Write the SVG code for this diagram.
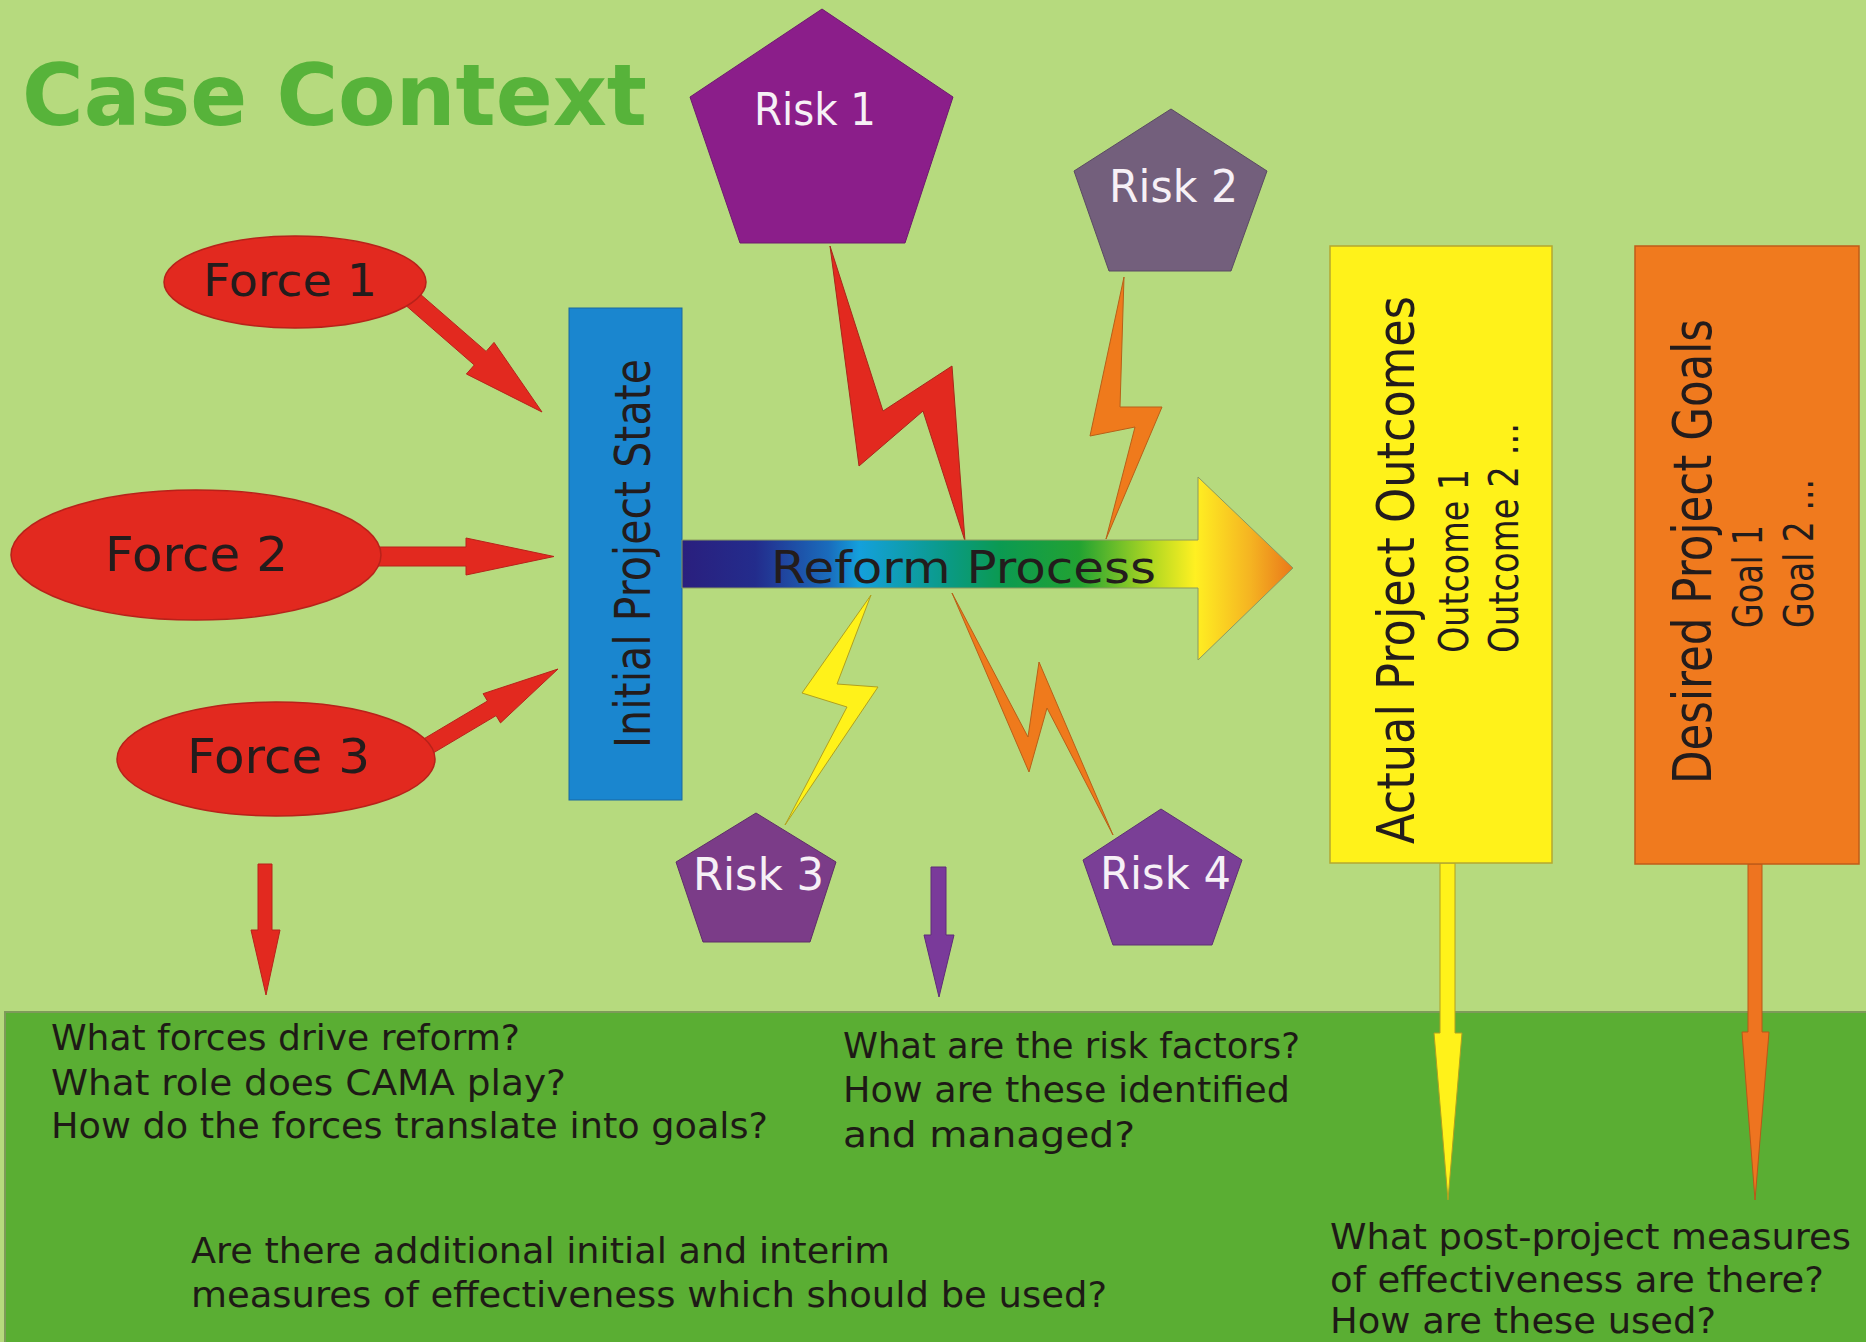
<svg xmlns="http://www.w3.org/2000/svg" width="1866" height="1342" viewBox="0 0 1866 1342">
  <style>
    .lbl { font-family: "DejaVu Sans", "Liberation Sans", sans-serif; fill: #231c1c; }
    .risk-lbl { font-family: "DejaVu Sans", "Liberation Sans", sans-serif; fill: #f6f0f6; font-size: 44px; }
    .q { font-family: "DejaVu Sans", "Liberation Sans", sans-serif; fill: #1e1a16; font-size: 35px; }
    .force { fill: #e2291f; stroke: #b8221a; stroke-width: 1.5; }
    .red-arrow { fill: #e2291f; stroke: #b8221a; stroke-width: 1; }
    .edge { stroke-width: 1; stroke-linejoin: miter; }
  </style>
  <defs>
    <linearGradient id="processFill" x1="682" y1="0" x2="1293" y2="0" gradientUnits="userSpaceOnUse">
      <stop offset="0" stop-color="#2a1f7e"/>
      <stop offset="0.12" stop-color="#232c8c"/>
      <stop offset="0.24" stop-color="#1a6cbc"/>
      <stop offset="0.29" stop-color="#14a0dc"/>
      <stop offset="0.44" stop-color="#0a9a82"/>
      <stop offset="0.52" stop-color="#0b9a52"/>
      <stop offset="0.65" stop-color="#22a232"/>
      <stop offset="0.77" stop-color="#b2d822"/>
      <stop offset="0.84" stop-color="#fff022"/>
      <stop offset="0.93" stop-color="#f5b422"/>
      <stop offset="1" stop-color="#ea781a"/>
    </linearGradient>
  </defs>

  <!-- background and lower question band -->
  <rect x="0" y="0" width="1866" height="1342" fill="#b6da7e"/>
  <rect x="5" y="1012" width="1866" height="335" fill="#5aae33" stroke="#7e9a5a" stroke-width="2"/>

  <!-- title -->
  <text x="22" y="125" font-family="'DejaVu Sans', 'Liberation Sans', sans-serif" font-weight="bold" font-size="86" fill="#57b33a" textLength="625" lengthAdjust="spacingAndGlyphs">Case Context</text>

  <!-- connectors: force arrows, risk bolts, down arrows -->
  <g id="connectors">
    <polygon class="red-arrow" points="405.1,304.8 474.3,365 466.4,374 542,412 494,342.4 486.1,351.4 416.9,291.2"/>
    <polygon class="red-arrow" points="370,547 466,547 466,538 554,556.5 466,575 466,566 370,566"/>
    <polygon class="red-arrow" points="429.3,755.3 496.1,715.6 500.5,722.9 558,669 483.1,693.7 487.5,701 420.7,740.7"/>

    <!-- lightning bolts from each risk to the process -->
    <polygon class="edge" fill="#e2291f" stroke="#a8281a" points="830,246 883,411 952,366 965,541 923,411 859,466"/>
    <polygon class="edge" fill="#ef7a1c" stroke="#b86018" points="1124,277 1120,407 1162,407 1106,539 1135,427 1090,436"/>
    <polygon class="edge" fill="#fff21a" stroke="#b0a020" points="871,595 837,684 878,687 785,825 847,707 802,693"/>
    <polygon class="edge" fill="#ef7a1c" stroke="#b86018" points="952,593 1028,737 1039,662 1113,835 1047,708 1029,772"/>

    <!-- down arrows into the question band -->
    <polygon class="red-arrow" points="258,864 272,864 272,930 280,930 266,995 251,930 258,930"/>
    <polygon fill="#7a3a9a" stroke="#5e2c78" stroke-width="1" points="931,867 946,867 946,935 954,935 939,997 924,935 931,935"/>
    <polygon fill="#fff21a" stroke="#b0a020" stroke-width="1" points="1440,863 1455,863 1455,1033 1462,1033 1448,1200 1434,1033 1440,1033"/>
    <polygon fill="#ee7420" stroke="#b85818" stroke-width="1" points="1748,864 1762,864 1762,1032 1769,1032 1755,1200 1742,1032 1748,1032"/>
  </g>

  <!-- forces -->
  <g id="force-1">
    <ellipse class="force" cx="295" cy="282" rx="131" ry="46"/>
    <text class="lbl" x="203" y="296" font-size="45" textLength="174" lengthAdjust="spacingAndGlyphs">Force 1</text>
  </g>
  <g id="force-2">
    <ellipse class="force" cx="196" cy="555" rx="185" ry="65"/>
    <text class="lbl" x="105" y="571" font-size="48" textLength="183" lengthAdjust="spacingAndGlyphs">Force 2</text>
  </g>
  <g id="force-3">
    <ellipse class="force" cx="276" cy="759" rx="159" ry="57"/>
    <text class="lbl" x="187" y="773" font-size="48" textLength="183" lengthAdjust="spacingAndGlyphs">Force 3</text>
  </g>

  <!-- initial state -->
  <g id="initial-project-state">
    <rect x="569" y="308" width="113" height="492" fill="#1a86cf" stroke="#1868a0" stroke-width="1"/>
    <text class="lbl" transform="translate(650,748) rotate(-90)" x="0" y="0" font-size="50" textLength="389" lengthAdjust="spacingAndGlyphs">Initial Project State</text>
  </g>

  <!-- reform process arrow -->
  <g id="reform-process">
    <polygon fill="url(#processFill)" stroke="#8a9a60" stroke-width="1" points="682,540 1198,540 1198,477 1293,568 1198,660 1198,588 682,588"/>
    <text class="lbl" x="771" y="583" font-size="44" textLength="385" lengthAdjust="spacingAndGlyphs">Reform Process</text>
  </g>

  <!-- risks -->
  <g id="risk-1">
    <polygon fill="#8b1e8a" stroke="#6e1a6e" stroke-width="1" points="822,9 953,97 905,243 740,243 690,97"/>
    <text class="risk-lbl" x="754" y="125" textLength="122" lengthAdjust="spacingAndGlyphs">Risk 1</text>
  </g>
  <g id="risk-2">
    <polygon fill="#735f7c" stroke="#5a4a62" stroke-width="1" points="1171,109 1267,171 1231,271 1109,271 1074,171"/>
    <text class="risk-lbl" x="1109" y="202" textLength="129" lengthAdjust="spacingAndGlyphs">Risk 2</text>
  </g>
  <g id="risk-3">
    <polygon fill="#7b3c88" stroke="#5e2e68" stroke-width="1" points="756,813 836,862 810,942 703,942 676,862"/>
    <text class="risk-lbl" x="693" y="890" textLength="131" lengthAdjust="spacingAndGlyphs">Risk 3</text>
  </g>
  <g id="risk-4">
    <polygon fill="#7a3f96" stroke="#5e3074" stroke-width="1" points="1161,809 1242,860 1212,945 1113,945 1083,860"/>
    <text class="risk-lbl" x="1100" y="889" textLength="131" lengthAdjust="spacingAndGlyphs">Risk 4</text>
  </g>

  <!-- outcomes and goals -->
  <g id="actual-project-outcomes">
    <rect x="1330" y="246" width="222" height="617" fill="#fff21a" stroke="#b4a830" stroke-width="1.5"/>
    <text class="lbl" transform="translate(1414,844) rotate(-90)" font-size="52" textLength="548" lengthAdjust="spacingAndGlyphs">Actual Project Outcomes</text>
    <text class="lbl" transform="translate(1468,653) rotate(-90)" font-size="40" textLength="184" lengthAdjust="spacingAndGlyphs">Outcome 1</text>
    <text class="lbl" transform="translate(1518,653) rotate(-90)" font-size="40" textLength="230" lengthAdjust="spacingAndGlyphs">Outcome 2 ...</text>
  </g>
  <g id="desired-project-goals">
    <rect x="1635" y="246" width="224" height="618" fill="#f07a1e" stroke="#c05c18" stroke-width="1.5"/>
    <text class="lbl" transform="translate(1711,784) rotate(-90)" font-size="54" textLength="465" lengthAdjust="spacingAndGlyphs">Desired Project Goals</text>
    <text class="lbl" transform="translate(1762,628) rotate(-90)" font-size="40" textLength="103" lengthAdjust="spacingAndGlyphs">Goal 1</text>
    <text class="lbl" transform="translate(1813,628) rotate(-90)" font-size="40" textLength="149" lengthAdjust="spacingAndGlyphs">Goal 2 ...</text>
  </g>

  <!-- questions -->
  <g id="questions-forces">
    <text class="q" x="51" y="1050" textLength="469" lengthAdjust="spacingAndGlyphs">What forces drive reform?</text>
    <text class="q" x="51" y="1095" textLength="515" lengthAdjust="spacingAndGlyphs">What role does CAMA play?</text>
    <text class="q" x="51" y="1138" textLength="717" lengthAdjust="spacingAndGlyphs">How do the forces translate into goals?</text>
  </g>
  <g id="questions-risks">
    <text class="q" x="843" y="1058" textLength="457" lengthAdjust="spacingAndGlyphs">What are the risk factors?</text>
    <text class="q" x="843" y="1102" textLength="447" lengthAdjust="spacingAndGlyphs">How are these identified</text>
    <text class="q" x="843" y="1147" textLength="292" lengthAdjust="spacingAndGlyphs">and managed?</text>
  </g>
  <g id="questions-interim">
    <text class="q" x="191" y="1263" textLength="699" lengthAdjust="spacingAndGlyphs">Are there additional initial and interim</text>
    <text class="q" x="191" y="1307" textLength="916" lengthAdjust="spacingAndGlyphs">measures of effectiveness which should be used?</text>
  </g>
  <g id="questions-post-project">
    <text class="q" x="1330" y="1249" textLength="521" lengthAdjust="spacingAndGlyphs">What post-project measures</text>
    <text class="q" x="1330" y="1292" textLength="494" lengthAdjust="spacingAndGlyphs">of effectiveness are there?</text>
    <text class="q" x="1330" y="1333" textLength="386" lengthAdjust="spacingAndGlyphs">How are these used?</text>
  </g>
</svg>
